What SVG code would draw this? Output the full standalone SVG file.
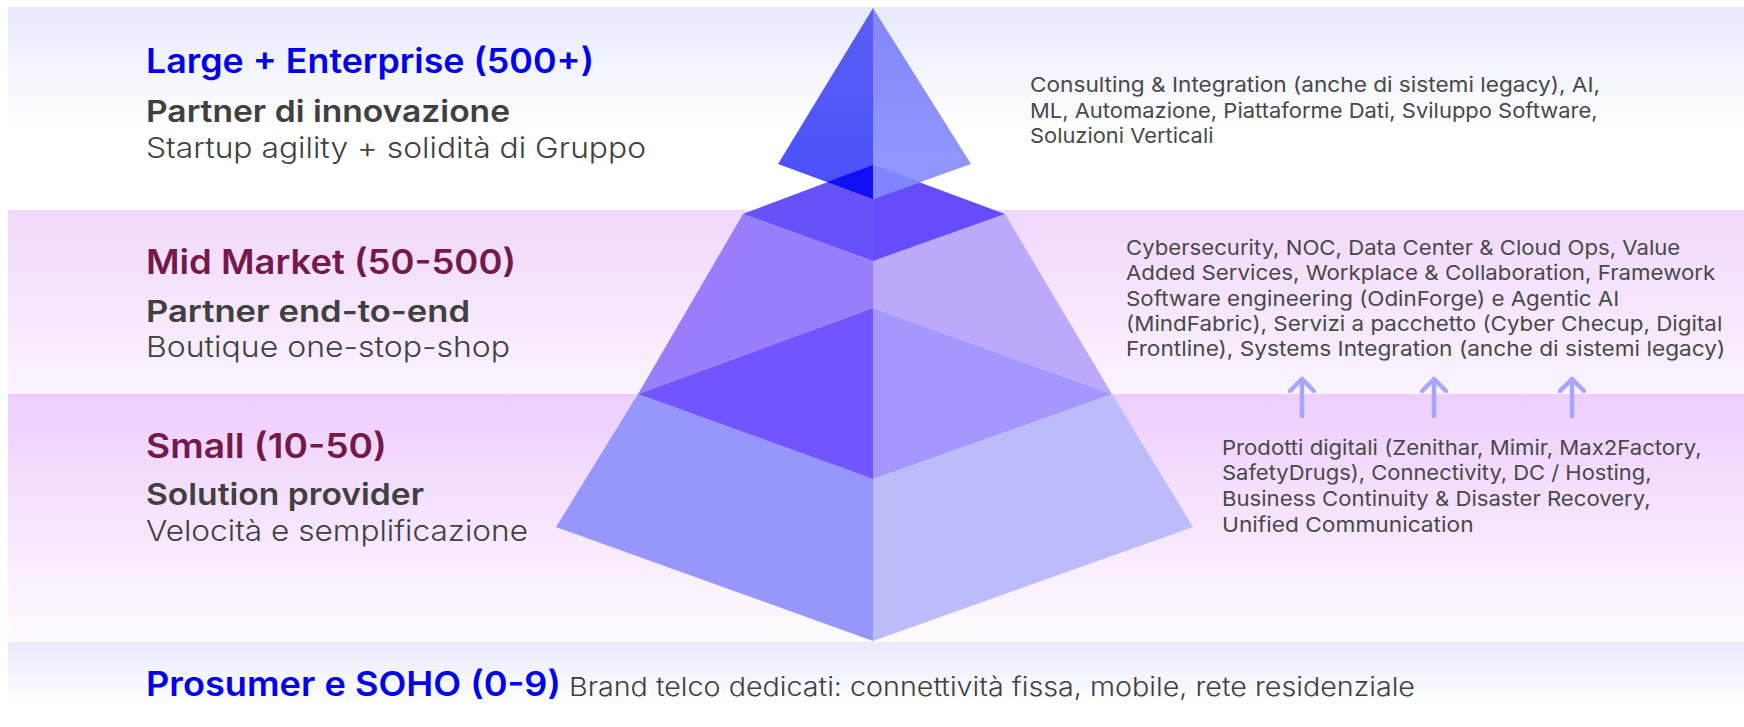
<svg xmlns="http://www.w3.org/2000/svg" width="1744" height="727" viewBox="0 0 1744 727">
<style>
text{font-family:"Inter","Noto Sans","Liberation Sans",sans-serif}
.blue{font-size:33.5px;font-weight:600;fill:#0000f0}
.mar{font-size:33.5px;font-weight:600;fill:#741a4a}
.sub{font-size:30.5px;font-weight:600;fill:#404040}
.des{font-size:28.5px;font-weight:300;fill:#404040}
.des2{font-size:26px;font-weight:300;fill:#404040}
.rt{font-size:20.5px;font-weight:400;fill:#484848}
.arr{fill:none;stroke:#a7a5ff;stroke-width:4.5;stroke-linecap:round;marker-end:url(#ah)}
</style>
<defs>
<linearGradient id="g1" x1="0" y1="0" x2="0" y2="1"><stop offset="0" stop-color="#e7e9fc"/><stop offset=".6" stop-color="#fff"/></linearGradient>
<linearGradient id="g2" x1="0" y1="0" x2="0" y2="1"><stop offset="0" stop-color="#f0d8fc"/><stop offset="1" stop-color="#fbf3fe"/></linearGradient>
<linearGradient id="g3" x1="0" y1="0" x2="0" y2="1"><stop offset="0" stop-color="#eecdfd"/><stop offset="1" stop-color="#fefbff"/></linearGradient>
<linearGradient id="g4" x1="0" y1="0" x2="0" y2="1"><stop offset="0" stop-color="#e8eafc"/><stop offset="1" stop-color="#fff"/></linearGradient>
<linearGradient id="tl" x1="0" y1="0" x2="0" y2="1"><stop offset="0" stop-color="#5a5ef4"/><stop offset="1" stop-color="#4a50fa"/></linearGradient>
<linearGradient id="tr" x1="0" y1="0" x2="0" y2="1"><stop offset="0" stop-color="#8287fb"/><stop offset="1" stop-color="#9398ff"/></linearGradient>
<marker id="ah" viewBox="0 0 16 28" refX="14" refY="14" markerWidth="16" markerHeight="28" markerUnits="userSpaceOnUse" orient="auto"><path d="M2 2L14 14L2 26" fill="none" stroke="#a7a5ff" stroke-width="4.5" stroke-linecap="round" stroke-linejoin="round"/></marker>
</defs>
<g id="bands">
<rect x="8" y="7" width="1736" height="203" fill="url(#g1)"/>
<rect x="8" y="210" width="1736" height="184" fill="url(#g2)"/>
<rect x="8" y="394" width="1736" height="248" fill="url(#g3)"/>
<rect x="8" y="642" width="1736" height="64" fill="url(#g4)"/>
</g>
<g id="pyramid">
<g id="layer-bottom">
<polygon points="638,394 873,479 873,641 556,527" fill="#9696fc"/>
<polygon points="1112,394 873,479 873,641 1193,527" fill="#bcbcfa"/>
</g>
<g id="layer-middle">
<polygon points="743,214 873,261 873,308 638,394" fill="#9a7dfb"/>
<polygon points="1005,214 873,261 873,308 1112,394" fill="#bda9fb"/>
<polygon points="873,308 638,394 873,479" fill="#7255fe"/>
<polygon points="873,308 1112,394 873,479" fill="#a497ff"/>
<polygon points="873,165 743,214 873,261" fill="#6652f8"/>
<polygon points="873,165 1005,214 873,261" fill="#664dfb"/>
</g>
<g id="layer-top">
<polygon points="873,8 778,164 873,199" fill="url(#tl)"/>
<polygon points="873,8 971,164 873,199" fill="url(#tr)"/>
<polygon points="873,165 827,182 873,199" fill="#1010f5"/>
<polygon points="873,165 921,182 873,199" fill="#7f84ff"/>
</g>
</g>
<g id="node-large">
<text class="blue" x="146" y="73" textLength="448" lengthAdjust="spacingAndGlyphs">Large + Enterprise (500+)</text>
<text class="sub" x="146" y="122" textLength="364" lengthAdjust="spacingAndGlyphs">Partner di innovazione</text>
<text class="des" x="146" y="158" textLength="500" lengthAdjust="spacingAndGlyphs">Startup agility + solidità di Gruppo</text>
<g>
<text class="rt" x="1030" y="92" textLength="570" lengthAdjust="spacingAndGlyphs">Consulting &amp; Integration (anche di sistemi legacy), AI,</text>
<text class="rt" x="1030" y="118" textLength="567.5" lengthAdjust="spacingAndGlyphs">ML, Automazione, Piattaforme Dati, Sviluppo Software,</text>
<text class="rt" x="1030" y="143" textLength="183.5" lengthAdjust="spacingAndGlyphs">Soluzioni Verticali</text>
</g>
</g>
<g id="node-mid">
<text class="mar" x="146" y="274" textLength="370" lengthAdjust="spacingAndGlyphs">Mid Market (50-500)</text>
<text class="sub" x="146" y="322" textLength="324" lengthAdjust="spacingAndGlyphs">Partner end-to-end</text>
<text class="des" x="146" y="357" textLength="364" lengthAdjust="spacingAndGlyphs">Boutique one-stop-shop</text>
<g>
<text class="rt" x="1126" y="255" textLength="554.3" lengthAdjust="spacingAndGlyphs">Cybersecurity, NOC, Data Center &amp; Cloud Ops, Value</text>
<text class="rt" x="1126" y="280" textLength="589.3" lengthAdjust="spacingAndGlyphs">Added Services, Workplace &amp; Collaboration, Framework</text>
<text class="rt" x="1126" y="306" textLength="493.3" lengthAdjust="spacingAndGlyphs">Software engineering (OdinForge) e Agentic AI</text>
<text class="rt" x="1126" y="331" textLength="596.3" lengthAdjust="spacingAndGlyphs">(MindFabric), Servizi a pacchetto (Cyber Checup, Digital</text>
<text class="rt" x="1126" y="356" textLength="599.3" lengthAdjust="spacingAndGlyphs">Frontline), Systems Integration (anche di sistemi legacy)</text>
</g>
</g>
<g id="node-small">
<text class="mar" x="146" y="458" textLength="241" lengthAdjust="spacingAndGlyphs">Small (10-50)</text>
<text class="sub" x="146" y="505" textLength="278" lengthAdjust="spacingAndGlyphs">Solution provider</text>
<text class="des" x="146" y="541" textLength="382" lengthAdjust="spacingAndGlyphs">Velocità e semplificazione</text>
<g>
<text class="rt" x="1222" y="455" textLength="479.6" lengthAdjust="spacingAndGlyphs">Prodotti digitali (Zenithar, Mimir, Max2Factory,</text>
<text class="rt" x="1222" y="480" textLength="429.6" lengthAdjust="spacingAndGlyphs">SafetyDrugs), Connectivity, DC / Hosting,</text>
<text class="rt" x="1222" y="506" textLength="428.6" lengthAdjust="spacingAndGlyphs">Business Continuity &amp; Disaster Recovery,</text>
<text class="rt" x="1222" y="532" textLength="251.6" lengthAdjust="spacingAndGlyphs">Unified Communication</text>
</g>
</g>
<g id="node-prosumer">
<text class="blue" x="146" y="696" textLength="415" lengthAdjust="spacingAndGlyphs">Prosumer e SOHO (0-9)</text>
<text class="des2" x="569" y="696" textLength="846" lengthAdjust="spacingAndGlyphs">Brand telco dedicati: connettività fissa, mobile, rete residenziale</text>
</g>
<g id="connectors">
<path class="arr" d="M1302 416V379"/>
<path class="arr" d="M1434 416V379"/>
<path class="arr" d="M1572 416V379"/>
</g>
</svg>
